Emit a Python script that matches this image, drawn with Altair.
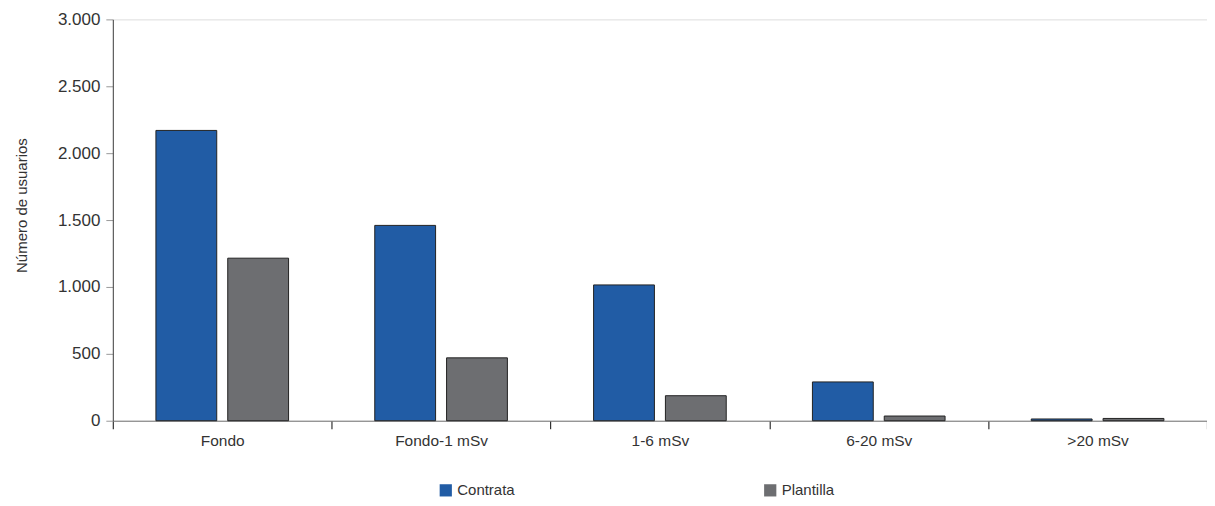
import altair as alt
import pandas as pd

categories = ["Fondo", "Fondo-1 mSv", "1-6 mSv", "6-20 mSv", ">20 mSv"]
series = ["Contrata", "Plantilla"]
contrata = [2170, 1460, 1015, 290, 13]
plantilla = [1215, 470, 187, 35, 17]
colors = ["#215ca5", "#6d6e71"]

rows = []
for c, v1, v2 in zip(categories, contrata, plantilla):
    rows.append({"cat": c, "serie": series[0], "val": v1})
    rows.append({"cat": c, "serie": series[1], "val": v2})
df = pd.DataFrame(rows)

FONT = "Liberation Sans"

chart = alt.Chart(df).mark_bar(
    stroke="#222222", strokeWidth=1
).encode(
    x=alt.X("cat:N", sort=categories, title=None,
            scale=alt.Scale(paddingInner=0, paddingOuter=0),
            axis=alt.Axis(labelAngle=0, tickBand="extent", labelFontSize=15.5,
                          labelColor="#333333", labelFont=FONT, labelPadding=5,
                          domainColor="#777777", tickColor="#333333",
                          tickSize=8, tickWidth=1.2)),
    xOffset=alt.XOffset("serie:N", sort=series,
                        scale=alt.Scale(paddingInner=0.153, paddingOuter=0.6)),
    y=alt.Y("val:Q", title="Número de usuarios",
            scale=alt.Scale(domain=[0, 3000]),
            axis=alt.Axis(values=[0, 500, 1000, 1500, 2000, 2500, 3000],
                          labelExpr="replace(format(datum.value, ','), ',', '.')",
                          labelFontSize=17, labelColor="#333333", labelFont=FONT,
                          titleFont=FONT, titleFontSize=15, titleFontWeight="normal",
                          titleColor="#333333", titlePadding=28, titleY=186,
                          domainColor="#444444", tickColor="#999999",
                          tickSize=7, labelPadding=6, grid=False)),
    color=alt.Color("serie:N", sort=series,
                    scale=alt.Scale(domain=series, range=colors),
                    legend=alt.Legend(title=None, orient="none", legendX=326,
                                      legendY=464, direction="horizontal",
                                      columns=2, columnPadding=248,
                                      symbolType="square", symbolSize=150,
                                      symbolStrokeWidth=0, labelFontSize=15,
                                      labelFont=FONT, labelColor="#333333",
                                      symbolOffset=0, labelOffset=4)),
).properties(
    width=1096, height=402,
    autosize=alt.AutoSizeParams(type="none"),
    padding={"left": 105, "top": 11, "right": 0, "bottom": 77},
).configure_view(
    fill="#dde3ef", stroke="#555555", strokeWidth=1
).configure(background="white")

chart.save("out.html", embed_options={"renderer": "svg", "actions": False})
